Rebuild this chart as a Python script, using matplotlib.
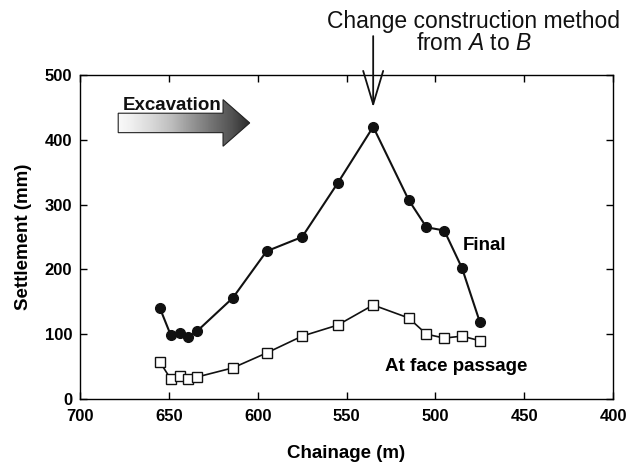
"""Surface settlement along the tunnel drive, final vs. at face passage.

Settlement is plotted against chainage (decreasing, the direction of
excavation), with the point where the construction method was switched
from A to B marked above the plot.

    python plot.py

Output:
    out.png
"""

from __future__ import annotations

import numpy as np

import matplotlib
matplotlib.use("Agg")  # no display needed; we save to file
import matplotlib.pyplot as plt  # noqa: E402
from matplotlib.path import Path  # noqa: E402
from matplotlib.patches import PathPatch  # noqa: E402

plt.rcParams["font.family"] = ["Liberation Sans", "DejaVu Sans"]
plt.rcParams["mathtext.fontset"] = "custom"
plt.rcParams["mathtext.rm"] = "Liberation Sans"
plt.rcParams["mathtext.it"] = "Liberation Sans:italic"

# chainage (m) of each monitoring section
CHAINAGE = [655, 649, 644, 639, 634, 614, 595, 575, 555, 535, 515, 505, 495, 485, 475]
FINAL_MM = [140, 99, 102, 95, 105, 156, 228, 250, 333, 420, 307, 265, 260, 202, 119]
FACE_MM = [57, 31, 36, 31, 34, 48, 71, 97, 114, 145, 125, 100, 94, 97, 90]

X_TICKS = [700, 650, 600, 550, 500, 450, 400]
Y_TICKS = [0, 100, 200, 300, 400, 500]

METHOD_CHANGE_AT = 535  # chainage where method A -> B


def excavation_arrow(ax) -> None:
    """Block arrow with a light-to-dark fill pointing along the drive."""
    x0, x_neck, x_tip = 678.5, 619.5, 604.5
    y_mid, half_body, half_head = 426, 15, 36
    verts = [
        (x0, y_mid - half_body), (x_neck, y_mid - half_body),
        (x_neck, y_mid - half_head), (x_tip, y_mid),
        (x_neck, y_mid + half_head), (x_neck, y_mid + half_body),
        (x0, y_mid + half_body), (x0, y_mid - half_body),
    ]
    path = Path(verts, closed=True)
    patch = PathPatch(path, facecolor="none", edgecolor="#222222", lw=0.8, zorder=4)
    ax.add_patch(patch)

    grad = np.linspace(0.0, 0.85, 256).reshape(1, -1)
    img = ax.imshow(grad, cmap="Greys", vmin=-0.05, vmax=1.0, aspect="auto",
                    extent=(x0, x_tip, y_mid - half_head, y_mid + half_head),
                    interpolation="bilinear", zorder=3)
    img.set_clip_path(patch)
    ax.text(676, 446, "Excavation", fontsize=13.5, fontweight="bold",
            ha="left", va="baseline", color="#111111")


def make_figure() -> None:
    fig = plt.figure(figsize=(6.32, 4.66), dpi=100)
    ax = fig.add_axes([0.1266, 0.1438, 0.8434, 0.6953])

    ax.plot(CHAINAGE, FINAL_MM, "-o", color="#111111", lw=1.5,
            ms=7, mfc="#111111", mec="#111111", zorder=5)
    ax.plot(CHAINAGE, FACE_MM, "-s", color="#111111", lw=1.2,
            ms=6.5, mfc="white", mec="#111111", mew=1.0, zorder=5)

    ax.set_xlim(700, 400)
    ax.set_ylim(0, 500)
    ax.set_xticks(X_TICKS)
    ax.set_yticks(Y_TICKS)
    ax.tick_params(direction="in", top=True, right=True, length=5, width=1,
                   labelsize=12)
    ax.tick_params(axis="x", pad=7.5)
    ax.tick_params(axis="y", pad=5.5)
    for lab in ax.get_xticklabels() + ax.get_yticklabels():
        lab.set_fontweight("bold")
    for sp in ax.spines.values():
        sp.set_linewidth(1.0)

    ax.set_xlabel("Chainage (m)", fontsize=13.5, fontweight="bold", labelpad=15)
    ax.set_ylabel("Settlement (mm)", fontsize=13.5, fontweight="bold", labelpad=9)

    ax.text(472.5, 230, "Final", fontsize=13.5, fontweight="bold",
            ha="center", va="baseline")
    ax.text(488.5, 43, "At face passage", fontsize=13.5, fontweight="bold",
            ha="center", va="baseline")

    excavation_arrow(ax)

    # where the construction method changes
    ax.annotate("", xy=(METHOD_CHANGE_AT, 450), xycoords="data",
                xytext=(METHOD_CHANGE_AT, 1.12), textcoords=("data", "axes fraction"),
                annotation_clip=False,
                arrowprops=dict(arrowstyle="->,head_length=1.2,head_width=0.36",
                                mutation_scale=20, lw=1.3, color="#111111",
                                shrinkA=0, shrinkB=0))
    xt = ax.get_xaxis_transform()
    ax.text(478.3, 1.145, "Change construction method", transform=xt,
            fontsize=16.5, ha="center", va="baseline", color="#111111")
    ax.text(478.3, 1.077, "from $\\mathit{A}$ to $\\mathit{B}$", transform=xt,
            fontsize=16.5, ha="center", va="baseline", color="#111111")

    fig.savefig("out.png", dpi=100)
    plt.close(fig)


def main() -> None:
    make_figure()


if __name__ == "__main__":
    main()
